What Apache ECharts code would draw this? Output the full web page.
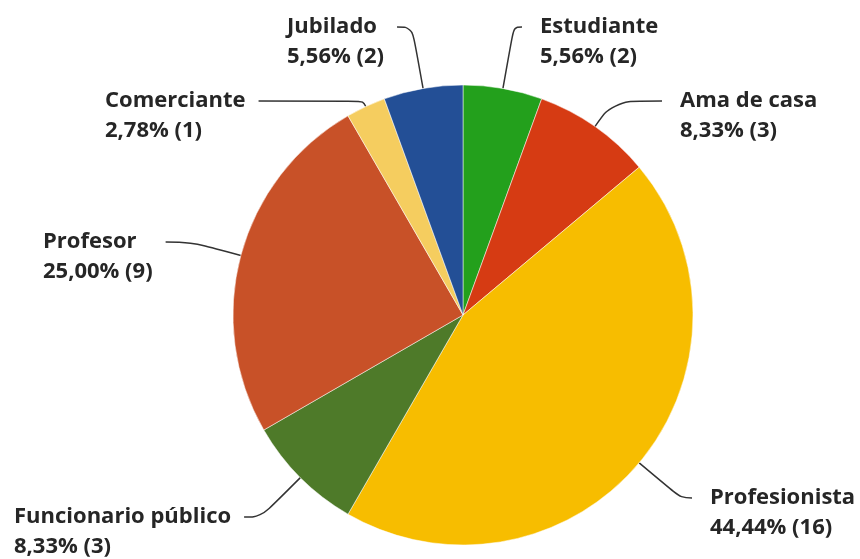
<!DOCTYPE html>
<html>
<head>
<meta charset="utf-8">
<script src="https://cdn.jsdelivr.net/npm/echarts@6/dist/echarts.min.js"></script>
<style>
  html, body { margin: 0; padding: 0; background: #fff; }
  #chart { width: 860px; height: 559px; }
</style>
</head>
<body>
<div id="chart"></div>
<script>
// categorias y respuestas (en sentido horario desde las 12)
const categorias = ['Estudiante', 'Ama de casa', 'Profesionista', 'Funcionario público', 'Profesor', 'Comerciante', 'Jubilado']
const respuestas = [2, 3, 16, 3, 9, 1, 2]
const colores = ['#23a01c', '#d63b13', '#f7bd00', '#4e7a29', '#c85128', '#f5cd5f', '#234f96']

// posicion de cada etiqueta (esquina sup. izquierda del bloque de texto)
const posEtiquetas = [
  [540, 12], [680, 86], [710, 483], [14, 502], [43, 227], [105, 86], [287, 12]
]

const total = respuestas.reduce((a, b) => a + b, 0)
const centro = [463, 315]
const LINEA = 30

let myChart = echarts.init(document.querySelector('#chart'))

myChart.setOption({
  animation: false,
  series: [
    {
      type: 'pie',
      center: centro,
      radius: 230,
      startAngle: 90,
      clockwise: true,
      itemStyle: {
        borderColor: '#fff',
        borderWidth: 0.5
      },
      label: {
        show: true,
        fontFamily: 'Open Sans',
        fontWeight: 'bold',
        fontSize: 22,
        lineHeight: LINEA,
        color: '#262626',
        formatter: (p) => {
          let pct = (p.value / total * 100).toFixed(2).replace('.', ',')
          return p.name + '\n' + pct + '% (' + p.value + ')'
        }
      },
      labelLine: {
        show: true,
        smooth: 0.4,
        lineStyle: { color: '#333', width: 1.5 }
      },
      // ? colocar etiquetas y unir la linea a la primera fila del texto
      labelLayout: (params) => {
        let pos = posEtiquetas[params.dataIndex]
        let p0 = params.labelLinePoints[0]
        let yFila = pos[1] + LINEA / 2
        let aDerecha = pos[0] > p0[0]
        let xFin = aDerecha ? pos[0] - 18 : pos[0] + params.labelRect.width + 13
        // ? tramo radial hasta la altura de la fila
        let dx = p0[0] - centro[0]
        let dy = p0[1] - centro[1]
        let t = (yFila - p0[1]) / dy
        if (t < 0) t = 0
        let p1 = [p0[0] + dx * t, yFila]
        if (aDerecha && p1[0] > xFin) p1[0] = xFin
        if (!aDerecha && p1[0] < xFin) p1[0] = xFin
        return {
          x: pos[0],
          y: pos[1],
          align: 'left',
          verticalAlign: 'top',
          labelLinePoints: [p0, p1, [xFin, yFila]]
        }
      },
      data: categorias.map((c, i) => ({
        name: c,
        value: respuestas[i],
        itemStyle: { color: colores[i] }
      }))
    }
  ]
})
</script>
</body>
</html>
